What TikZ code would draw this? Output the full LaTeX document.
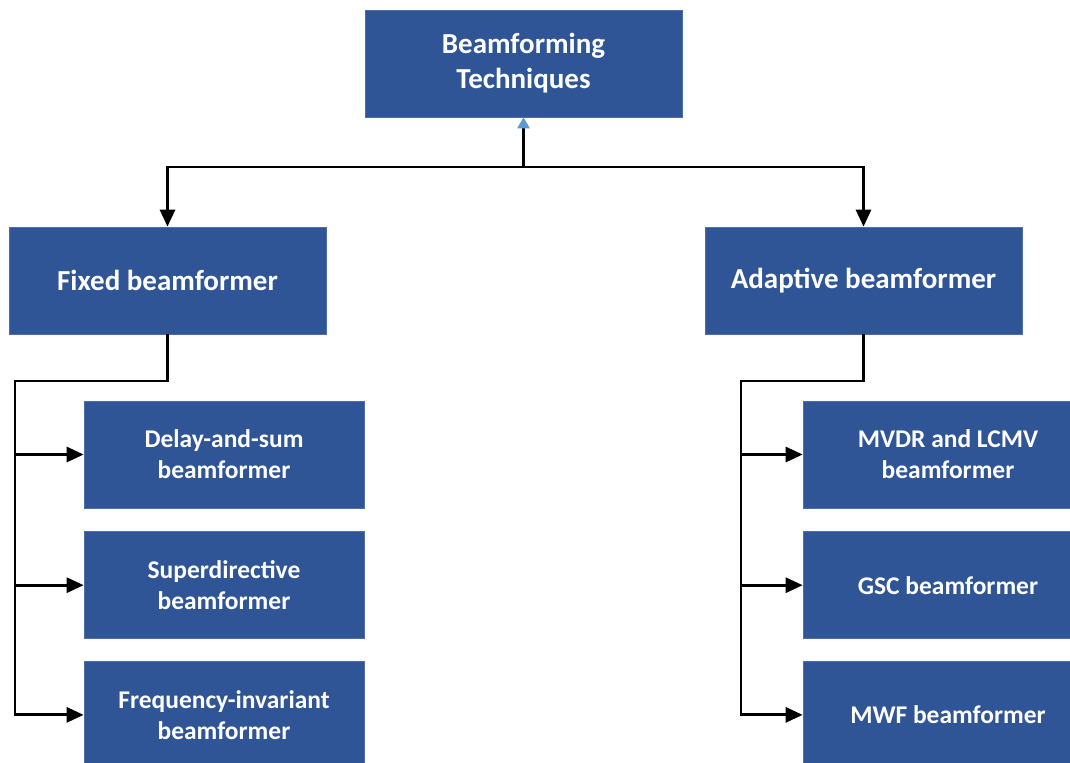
\documentclass[tikz,border=0pt]{standalone}
\usepackage{fontspec}
\setmainfont{Carlito}
\usetikzlibrary{positioning}
\usetikzlibrary{arrows.meta}
\definecolor{boxblue}{RGB}{47,85,151}
\definecolor{tipblue}{RGB}{91,155,213}
\tikzset{
  mainbox/.style={rectangle, fill=boxblue, draw=boxblue!85!white, text=white,
    font=\bfseries\fontsize{16.5}{20}\selectfont, align=center,
    minimum width=6.34cm, minimum height=2.14cm, inner sep=0pt},
  subbox/.style={mainbox, font=\bfseries\fontsize{14.5}{17.5}\selectfont,
    minimum width=5.6cm},
  line/.style={draw=black, line width=1.6pt},
  arrow/.style={line, -{Triangle[length=0.34cm,width=0.3cm]}},
}

\begin{document}
\begin{tikzpicture}[x=0.02cm, y=-0.02cm]
  \useasboundingbox (0,0) rectangle (1070,762);
  \clip (0,0) rectangle (1070,762);

  \node [mainbox] (top) at (523.5, 63.5) {Beamforming\\Techniques};
  \node [mainbox] (fixed) at (167.5, 280.5) {Fixed beamformer};
  \node [mainbox] (adaptive) at (863.5, 280.5) {Adaptive beamformer};

  \node [subbox] (delay) at (224, 454.5) {Delay-and-sum\\beamformer};
  \node [subbox, below=0.46cm of delay] (superdir) {Superdirective\\beamformer};
  \node [subbox, below=0.44cm of superdir] (freqinv) {Frequency-invariant\\beamformer};

  \node [subbox, minimum width=5.8cm] (mvdr) at (948, 454.5) {MVDR and LCMV\\beamformer};
  \node [subbox, minimum width=5.8cm, below=0.46cm of mvdr] (gsc) {GSC beamformer};
  \node [subbox, minimum width=5.8cm, below=0.44cm of gsc] (mwf) {MWF beamformer};

  \coordinate (hub) at (523.5, 167);
  \coordinate (fbus) at (15, 381);
  \coordinate (abus) at (741, 381);

  \draw [line, {Triangle[color=tipblue, length=0.22cm, width=0.24cm]}-] (top.south) -- (hub);
  \draw [arrow] (hub) -| (fixed.north);
  \draw [arrow] (hub) -| (adaptive.north);

  \draw [arrow] (fixed.south) |- (fbus) |- (delay.west);
  \draw [arrow] (fbus) |- (superdir.west);
  \draw [arrow] (fbus) |- (freqinv.west);

  \draw [arrow] (adaptive.south) |- (abus) |- (mvdr.west);
  \draw [arrow] (abus) |- (gsc.west);
  \draw [arrow] (abus) |- (mwf.west);
\end{tikzpicture}
\end{document}
